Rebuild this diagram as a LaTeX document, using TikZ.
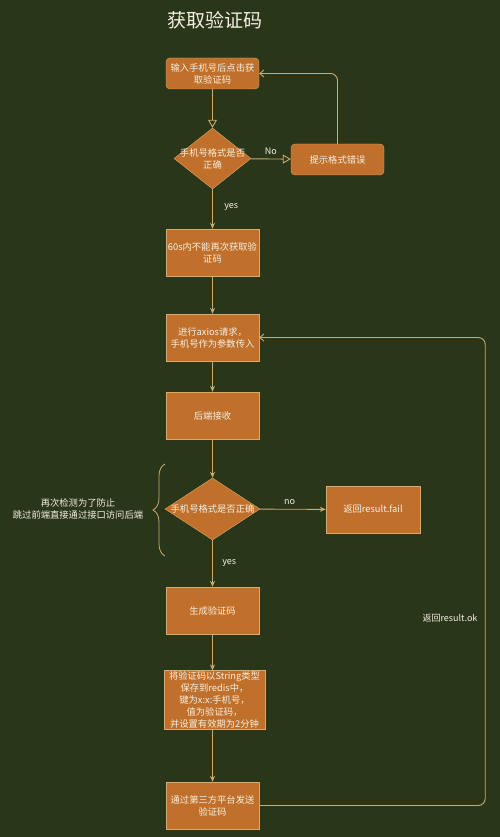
\documentclass[tikz,border=0pt]{standalone}
\usepackage{fontspec}
\setmainfont{Noto Sans CJK SC}
\usepackage{tikz}
\usetikzlibrary{shapes.geometric,arrows.meta,decorations.pathreplacing}
\definecolor{bgcol}{RGB}{42,54,25}
\definecolor{boxfill}{RGB}{192,112,42}
\definecolor{boxline}{RGB}{218,170,104}
\definecolor{linecol}{RGB}{200,172,112}
\definecolor{txtcol}{RGB}{246,240,228}

\begin{document}
\begin{tikzpicture}[x=1pt,y=-1pt,
  box/.style={draw=boxline, fill=boxfill, text=txtcol, align=center, inner sep=1pt,
    minimum width=93pt, minimum height=47pt, font=\fontsize{9.3}{12}\selectfont},
  rbox/.style={box, rounded corners=4pt, minimum height=31pt},
  decision/.style={diamond, draw=boxline, fill=boxfill, inner sep=0pt},
  dtext/.style={text=txtcol, align=center, font=\fontsize{9.3}{12}\selectfont},
  lbl/.style={text=txtcol, font=\fontsize{9}{11}\selectfont},
  flow/.style={draw=linecol, line width=0.9pt, -{Stealth[length=6pt,width=5pt]}},
  hollow/.style={draw=linecol, line width=0.9pt, -{Triangle[open,length=8pt,width=9pt]}},
  back/.style={draw=linecol, line width=0.9pt, rounded corners=7pt, -{Straight Barb[length=4pt,width=7pt]}}]
\useasboundingbox (0,0) rectangle (500,837);
\fill[bgcol] (0,0) rectangle (500,837);

% title
\node[text=txtcol, font=\fontsize{19}{22}\selectfont] (title) at (215,20) {获取验证码};

% front end check
\node[rbox] (b1) at (212.5,73.5) {输入手机号后点击获\\取验证码};
\node[decision, minimum width=77pt, minimum height=61pt] (d1) at (212.5,158.5) {};
\node[dtext] (d1t) at (212.5,158.5) {手机号格式是否\\正确};
\node[rbox] (b2) at (337.5,159.5) {提示格式错误};

\draw[hollow] (b1) -- (d1);
\draw[hollow] (d1) -- (b2) node[lbl, midway, above=1pt] {No};
\draw[back] (b2.north) |- (b1.east);

% request
\node[box] (b3) at (212.5,252.5) {60s内不能再次获取验\\证码};
\node[box] (b4) at (212.5,337.5) {进行axios请求，\\手机号作为参数传入};
\node[box] (b5) at (212.5,415.5) {后端接收};

\draw[flow] (d1) -- (b3) node[lbl, pos=0.45, right=8pt] {yes};
\draw[flow] (b3) -- (b4);
\draw[flow] (b4) -- (b5);

% back end check
\node[decision, minimum width=95pt, minimum height=62pt] (d2) at (212.5,509) {};
\node[dtext] (d2t) at (212.5,509) {手机号格式是否正确};
\node[box, minimum width=94pt] (b6) at (373,509.5) {返回result.fail};
\node[dtext] (note) at (78,509) {再次检测为了防止\\跳过前端直接通过接口访问后端};
\draw[draw=linecol, line width=0.8pt, decorate, decoration={brace, amplitude=12pt}]
  (165,556) -- (165,464);

\draw[flow] (b5) -- (d2);
\draw[flow] (d2) -- (b6) node[lbl, pos=0.45, above=1pt] {no};

% code generation
\node[box] (b7) at (212.5,610.5) {生成验证码};
\node[box, minimum width=101pt, minimum height=56pt] (b8) at (214.5,700) {将验证码以String类型\\保存到redis中，\\键为x:x:手机号，\\值为验证码，\\并设置有效期为2分钟};
\node[box] (b9) at (212.5,805.5) {通过第三方平台发送\\验证码};

\draw[flow] (d2) -- (b7) node[lbl, pos=0.5, right=6pt] {yes};
\draw[flow] (b7) -- (b7 |- b8.north);
\draw[flow] (b7 |- b8.south) -- (b9);
\draw[back] (b9.east) -- ++(226,0) |- (b4.east);
\node[lbl] (ok) at (450,618) {返回result.ok};
\end{tikzpicture}
\end{document}
